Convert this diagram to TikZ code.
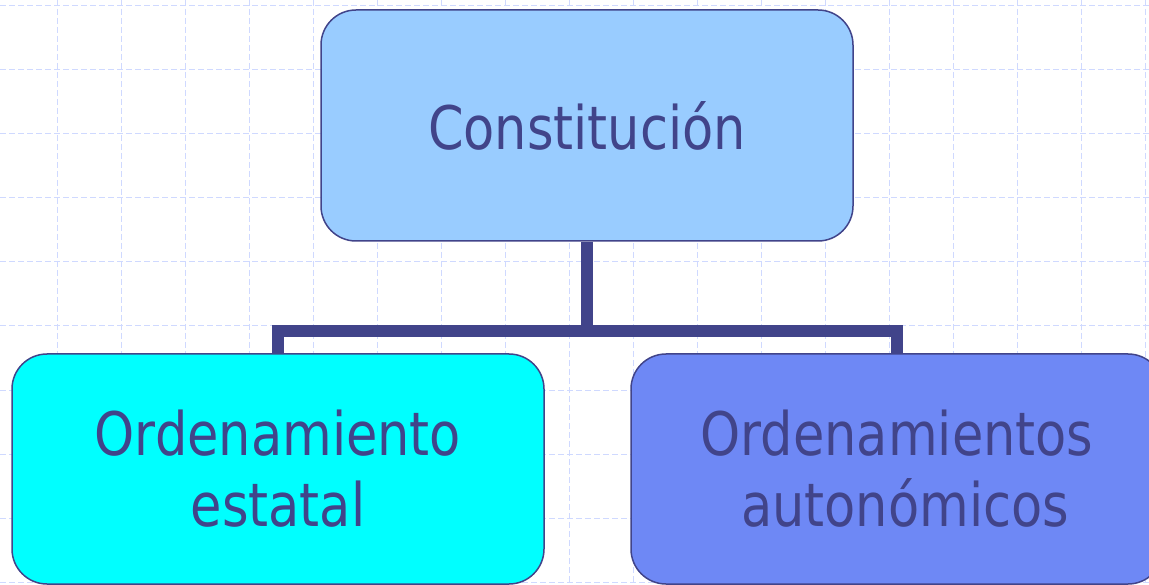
\documentclass[tikz,border=0pt]{standalone}
\usepackage{fontspec}
\setmainfont{DejaVu Sans}[FakeStretch=0.85]
\definecolor{ink}{HTML}{41448A}
\definecolor{gridc}{HTML}{CFD9FF}
\definecolor{topfill}{HTML}{99CCFF}
\definecolor{leftfill}{HTML}{00FFFF}
\definecolor{rightfill}{HTML}{6E88F5}
\begin{document}
\begin{tikzpicture}[x=1pt,y=-1pt,
  box/.style={draw=ink, line width=1.5pt, rounded corners=35pt, inner sep=0pt,
    minimum width=532pt, minimum height=230pt, align=center, text=ink,
    font=\fontsize{60}{71}\selectfont},
  conn/.style={draw=ink, line width=12pt, line join=miter},
  gridline/.style={draw=gridc, line width=1pt, dash pattern=on 6pt off 3pt}]
\useasboundingbox (0,0) rectangle (1149,585);
\clip (0,0) rectangle (1149,585);
\fill[white] (0,0) rectangle (1149,585);
% background grid
\foreach \gx in {57,121,...,1145} \draw[gridline] (\gx,0) -- (\gx,585);
\foreach \gy in {6,70,...,585} \draw[gridline] (0,\gy) -- (1149,\gy);
% boxes
\node[box, fill=topfill, minimum height=231pt] (top) at (587,125.5) {Constitución};
\node[box, fill=leftfill] (left) at (278,469) {Ordenamiento\\estatal};
\node[box, fill=rightfill] (right) at (897,469) {Ordenamientos\\\hspace*{16pt}autonómicos};
\coordinate (bar) at (587,331);
% connectors
\draw[conn] (top.south) -- (top.south |- bar);
\draw[conn] (left.north) -- (left.north |- bar) -- (right.north |- bar) -- (right.north);
\end{tikzpicture}
\end{document}
